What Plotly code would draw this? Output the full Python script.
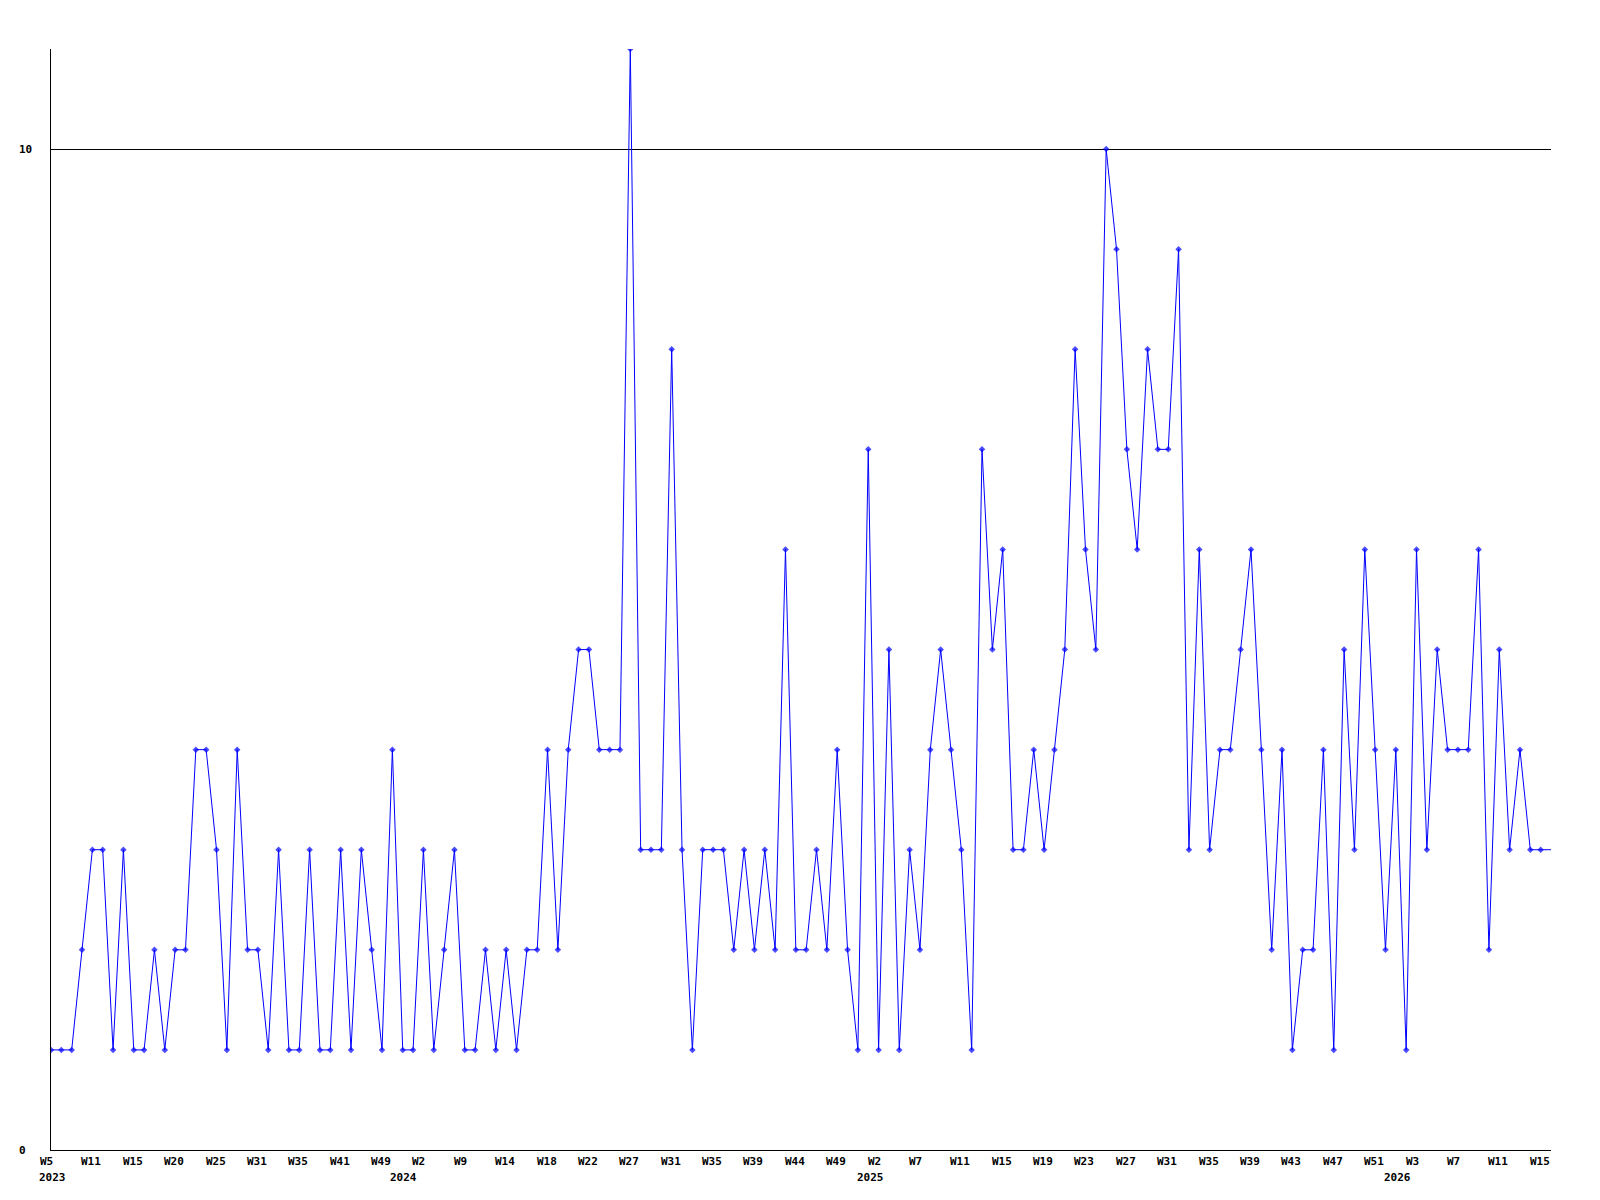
import plotly.graph_objects as go

# Weekly values (one point per reported week)
values = [
    1, 1, 1, 2, 3, 3, 1, 3, 1, 1,
    2, 1, 2, 2, 4, 4, 3, 1, 4, 2,
    2, 1, 3, 1, 1, 3, 1, 1, 3, 1,
    3, 2, 1, 4, 1, 1, 3, 1, 2, 3,
    1, 1, 2, 1, 2, 1, 2, 2, 4, 2,
    4, 5, 5, 4, 4, 4, 11, 3, 3, 3,
    8, 3, 1, 3, 3, 3, 2, 3, 2, 3,
    2, 6, 2, 2, 3, 2, 4, 2, 1, 7,
    1, 5, 1, 3, 2, 4, 5, 4, 3, 1,
    7, 5, 6, 3, 3, 4, 3, 4, 5, 8,
    6, 5, 10, 9, 7, 6, 8, 7, 7, 9,
    3, 6, 3, 4, 4, 5, 6, 4, 2, 4,
    1, 2, 2, 4, 1, 5, 3, 6, 4, 2,
    4, 1, 6, 3, 5, 4, 4, 4, 6, 2,
    5, 3, 4, 3, 3,
]
# current (incomplete) week, drawn as line only
current_value = 3

# Week tick labels, one every 4 points
tick_labels = [
    "W5", "W11", "W15", "W20", "W25", "W31", "W35", "W41", "W49",
    "W2", "W9", "W14", "W18", "W22", "W27", "W31", "W35", "W39", "W44", "W49",
    "W2", "W7", "W11", "W15", "W19", "W23", "W27", "W31", "W35", "W39", "W43", "W47", "W51",
    "W3", "W7", "W11", "W15",
]
tick_step = 4

year_labels = ["2023", "2024", "2025", "2026"]
year_tick_index = [0, 36, 80, 132]
year_xshift = [-14, -35, -24, -35]

y_tick_values = [0, 10]

x = list(range(len(values) + 1))
y = values + [current_value]
marker_sizes = [5] * len(values) + [0]

FONT = "DejaVu Sans Mono"

fig = go.Figure()
fig.add_trace(go.Scatter(
    x=x, y=y, mode="lines+markers",
    line=dict(color="#0000FF", width=1),
    marker=dict(symbol="diamond", size=marker_sizes, color="#0000FF", line=dict(width=0)),
    hoverinfo="skip", showlegend=False,
))

annotations = []
for i, lab in enumerate(tick_labels):
    annotations.append(dict(
        x=i * tick_step, y=0, xref="x", yref="y", text=lab, showarrow=False,
        xanchor="left", yanchor="middle", xshift=-13, yshift=-11,
        font=dict(family=FONT, size=11, color="black", weight="bold"),
    ))
for lab, idx, xs in zip(year_labels, year_tick_index, year_xshift):
    annotations.append(dict(
        x=idx, y=0, xref="x", yref="y", text=lab, showarrow=False,
        xanchor="left", yanchor="middle", xshift=xs, yshift=-27,
        font=dict(family=FONT, size=11, color="black", weight="bold"),
    ))
for v in y_tick_values:
    annotations.append(dict(
        x=-0.0226, y=v, xref="paper", yref="y", text=str(v), showarrow=False,
        xanchor="left", yanchor="middle",
        font=dict(family=FONT, size=11, color="black", weight="bold"),
    ))

fig.update_layout(
    width=1600, height=1200,
    margin=dict(l=51, r=49, t=49, b=50),
    paper_bgcolor="white", plot_bgcolor="white",
    annotations=annotations,
    xaxis=dict(
        range=[0, len(values)], showgrid=False, zeroline=False,
        showline=True, linecolor="black", linewidth=1,
        showticklabels=False, ticks="",
    ),
    yaxis=dict(
        range=[0, 11], tickvals=y_tick_values, showgrid=True,
        gridcolor="black", gridwidth=1, zeroline=False,
        showline=True, linecolor="black", linewidth=1,
        showticklabels=False, ticks="",
    ),
)

fig.write_html(
    "out.html",
    config={"displayModeBar": False},
    post_script="document.body.style.margin='0';document.body.style.overflow='hidden';",
)
